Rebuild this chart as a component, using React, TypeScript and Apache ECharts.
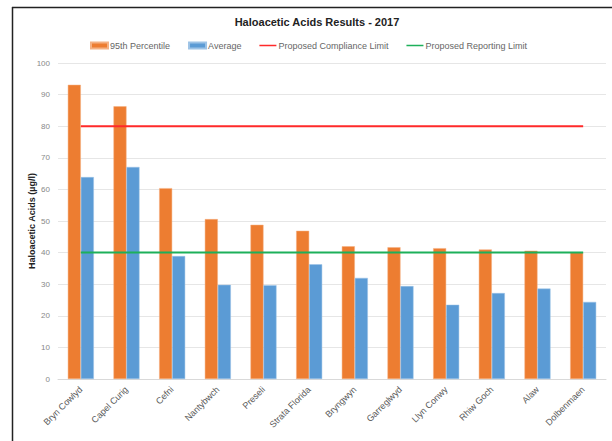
import React, { useEffect, useRef } from "react";
import * as echarts from "echarts";

const categories = [
  "Bryn Cowlyd", "Capel Curig", "Cefni", "Nantybwch", "Preseli", "Strata Florida",
  "Bryngwyn", "Garreglwyd", "Llyn Conwy", "Rhiw Goch", "Alaw", "Dolbenmaen",
];
const percentile95 = [93.1, 86.3, 60.4, 50.6, 48.8, 46.9, 42.0, 41.7, 41.4, 41.0, 40.6, 40.1];
const average = [63.9, 67.1, 38.9, 29.8, 29.7, 36.3, 32.0, 29.4, 23.5, 27.2, 28.6, 24.4];
const complianceLimit = [80, 80, 80, 80, 80, 80, 80, 80, 80, 80, 80, 80];
const reportingLimit = [40, 40, 40, 40, 40, 40, 40, 40, 40, 40, 40, 40];
const yTicks = { min: 0, max: 100, interval: 10 };

const FONT = "'Liberation Sans', Arial, sans-serif";
const LINE_ICON = "path://M0,0H0.01V0.01H0ZM0,2.2H20V3.8H0ZM19.99,5.99H20V6H19.99Z";

export default function App() {
  const ref = useRef<HTMLDivElement>(null);
  useEffect(() => {
    if (!ref.current) return;
    const chart = echarts.init(ref.current, undefined, { renderer: "svg" });
    chart.setOption({
      animation: false,
      backgroundColor: "#ffffff",
      textStyle: { fontFamily: FONT },
      title: {
        text: "Haloacetic Acids Results - 2017",
        left: 312,
        textAlign: "center",
        top: 11,
        textStyle: { fontSize: 11, fontWeight: "bold", color: "#222", fontFamily: FONT },
      },
      legend: {
        left: 85,
        top: 36,
        itemGap: 18,
        itemWidth: 17,
        itemHeight: 6,
        textStyle: { fontSize: 9, color: "#666", fontFamily: FONT, padding: [0, 0, 0, -3] },
        data: [
          { name: "95th Percentile", icon: "rect" },
          { name: "Average", icon: "rect" },
          { name: "Proposed Compliance Limit", icon: LINE_ICON },
          { name: "Proposed Reporting Limit", icon: LINE_ICON },
        ],
      },
      grid: { left: 58, right: 6, top: 63, bottom: 62, containLabel: false },
      xAxis: {
        type: "category",
        data: categories,
        axisLine: { lineStyle: { color: "#d9d9d9" } },
        axisTick: { show: false },
        axisLabel: { rotate: 45, fontSize: 9, color: "#595959", fontFamily: FONT, margin: 9, interval: 0 },
      },
      yAxis: {
        type: "value",
        min: yTicks.min,
        max: yTicks.max,
        interval: yTicks.interval,
        name: "Haloacetic Acids (µg/l)",
        nameLocation: "middle",
        nameGap: 22,
        nameMoveOverlap: false,
        nameTextStyle: { fontSize: 9, fontWeight: "bold", color: "#222", fontFamily: FONT },
        axisLine: { show: false },
        axisTick: { show: false },
        axisLabel: { fontSize: 8, color: "#888", fontFamily: FONT, margin: 8 },
        splitLine: { lineStyle: { color: "#e6e6e6" } },
      },
      series: [
        {
          name: "95th Percentile",
          type: "bar",
          data: percentile95,
          barGap: "0%",
          barCategoryGap: "43%",
          itemStyle: { color: "#ED7D31", borderColor: "#f4b183", borderWidth: 0.5 },
        },
        {
          name: "Average",
          type: "bar",
          data: average,
          barGap: "0%",
          barCategoryGap: "43%",
          itemStyle: { color: "#5B9BD5", borderColor: "#9dc3e6", borderWidth: 0.5 },
        },
        {
          name: "Proposed Compliance Limit",
          type: "line",
          data: complianceLimit,
          symbol: "none",
          lineStyle: { color: "#FF2A2A", width: 2 },
          itemStyle: { color: "#FF2A2A" },
        },
        {
          name: "Proposed Reporting Limit",
          type: "line",
          data: reportingLimit,
          symbol: "none",
          lineStyle: { color: "#1DB05A", width: 2 },
          itemStyle: { color: "#1DB05A" },
        },
      ],
      graphic: [
        { type: "line", shape: { x1: 12, y1: 7.5, x2: 612, y2: 7.5 }, style: { stroke: "#222", lineWidth: 1.5 } },
        { type: "line", shape: { x1: 12.5, y1: 7, x2: 12.5, y2: 441 }, style: { stroke: "#222", lineWidth: 1.5 } },
      ],
    });
    return () => chart.dispose();
  }, []);
  return (
    <div
      ref={ref}
      style={{ position: "fixed", left: 0, top: 0, width: 612, height: 441 }}
    />
  );
}
